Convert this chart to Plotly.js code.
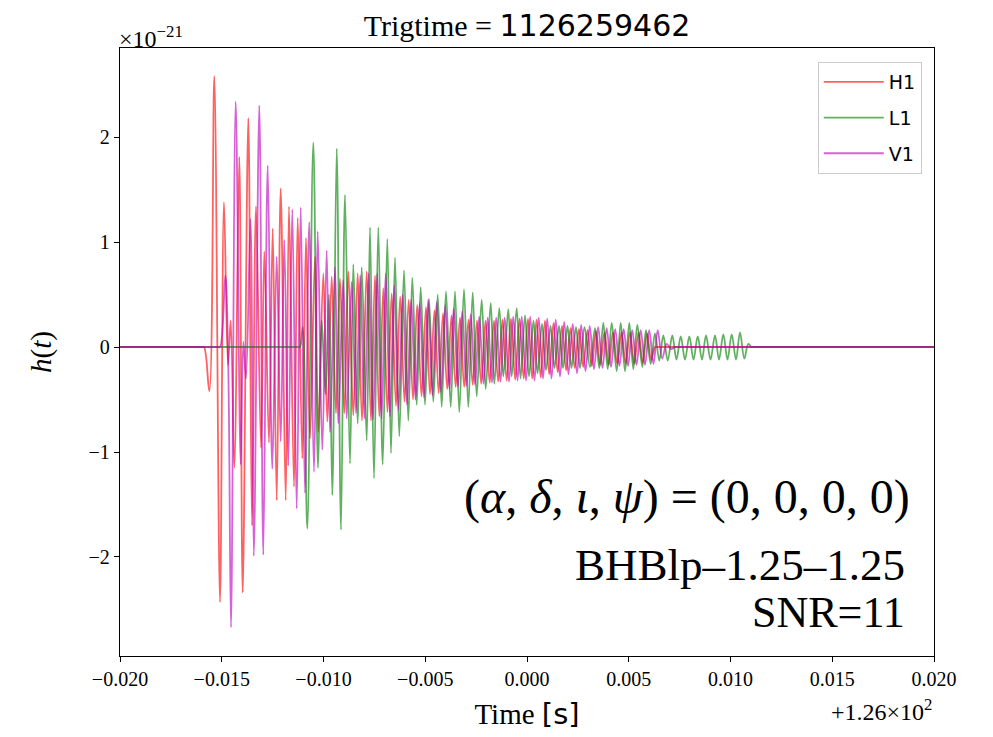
<!DOCTYPE html>
<html>
<head>
<meta charset="utf-8">
<script src="https://cdn.plot.ly/plotly-3.0.1.min.js"></script>
<style>html,body{margin:0;padding:0;background:#fff;}#chart{width:993px;height:737px;}</style>
</head>
<body>
<div id="chart"></div>
<script>
// Time offsets in seconds relative to 126 s; strain in units of 1e-21
const h1Time = [-0.020000,-0.016000,-0.015872,-0.015612,-0.015366,-0.015086,-0.014890,-0.014693,-0.014560,-0.014383,-0.014138,-0.013971,-0.013695,-0.013514,-0.013317,-0.013071,-0.012909,-0.012678,-0.012496,-0.012300,-0.012103,-0.011858,-0.011696,-0.011450,-0.011268,-0.011042,-0.010860,-0.010664,-0.010418,-0.010256,-0.010010,-0.009814,-0.009597,-0.009386,-0.009189,-0.008978,-0.008781,-0.008536,-0.008320,-0.008108,-0.007877,-0.007666,-0.007469,-0.007258,-0.007062,-0.006855,-0.006649,-0.006438,-0.006231,-0.006020,-0.005813,-0.005602,-0.005396,-0.005184,-0.004963,-0.004767,-0.004546,-0.004339,-0.004128,-0.003921,-0.003710,-0.003504,-0.003293,-0.003086,-0.002875,-0.002668,-0.002457,-0.002251,-0.002039,-0.001833,-0.001622,-0.001415,-0.001204,-0.000998,-0.000786,-0.000580,-0.000369,-0.000162,0.000049,0.000256,0.000467,0.000673,0.000884,0.001091,0.001302,0.001509,0.001720,0.001926,0.002138,0.002344,0.002555,0.002762,0.002973,0.003180,0.003391,0.003597,0.003808,0.004015,0.004226,0.004433,0.004644,0.004850,0.005061,0.005268,0.005479,0.005686,0.005897,0.006103,0.006290,0.006400,0.020000];
const h1Strain = [0,0,0,-0.42,2.58,-2.43,1.38,-0.17,0.25,-1.15,1.81,-2.34,2.18,-1.70,1.34,-0.96,0.91,-0.91,1.13,-1.46,1.51,-1.46,1.34,-1.33,1.23,-1.06,1.04,-0.87,0.86,-0.81,0.70,-0.71,0.67,-0.63,0.65,-0.63,0.72,-0.65,0.70,-0.70,0.72,-0.70,0.68,-0.66,0.56,-0.62,0.51,-0.56,0.48,-0.52,0.45,-0.50,0.40,-0.47,0.38,-0.45,0.35,-0.44,0.32,-0.40,0.30,-0.38,0.28,-0.38,0.26,-0.36,0.25,-0.35,0.25,-0.34,0.25,-0.33,0.26,-0.32,0.27,-0.31,0.27,-0.30,0.27,-0.30,0.26,-0.29,0.25,-0.26,0.23,-0.24,0.20,-0.22,0.18,-0.20,0.17,-0.19,0.16,-0.18,0.15,-0.17,0.14,-0.17,0.14,-0.16,0.14,-0.16,0.14,-0.16,0.14,-0.15,0.13,-0.12,0,0,0];

const l1Time = [-0.020000,-0.011250,-0.011155,-0.011022,-0.010796,-0.010501,-0.010270,-0.010089,-0.009902,-0.009730,-0.009568,-0.009352,-0.009140,-0.008944,-0.008698,-0.008536,-0.008320,-0.008123,-0.007877,-0.007715,-0.007519,-0.007307,-0.007091,-0.006865,-0.006683,-0.006487,-0.006276,-0.006044,-0.005833,-0.005636,-0.005420,-0.005224,-0.005012,-0.004816,-0.004605,-0.004388,-0.004192,-0.003981,-0.003750,-0.003538,-0.003327,-0.003096,-0.002884,-0.002668,-0.002472,-0.002226,-0.002029,-0.001784,-0.001607,-0.001361,-0.001164,-0.000919,-0.000752,-0.000506,-0.000319,-0.000098,0.000098,0.000319,0.000516,0.000737,0.000933,0.001155,0.001351,0.001572,0.001769,0.001990,0.002187,0.002408,0.002604,0.002825,0.003096,0.003341,0.003553,0.003749,0.003966,0.004162,0.004408,0.004604,0.004816,0.005027,0.005224,0.005420,0.005666,0.005847,0.006078,0.006290,0.006501,0.006698,0.006914,0.007140,0.007346,0.007553,0.007764,0.007976,0.008182,0.008389,0.008599,0.008796,0.009017,0.009238,0.009435,0.009646,0.009852,0.010059,0.010270,0.010467,0.010678,0.010875,0.011042,0.011150,0.020000];
const l1Strain = [0,0,0,0.19,-1.73,1.95,-1.15,0.25,-0.45,0.50,-1.41,1.89,-1.74,1.45,-1.11,0.79,-0.73,0.76,-0.89,1.14,-1.25,1.14,-1.12,1.03,-1.01,0.85,-0.85,0.73,-0.70,0.66,-0.55,0.57,-0.55,0.46,-0.52,0.50,-0.57,0.53,-0.57,0.53,-0.62,0.55,-0.57,0.52,-0.47,0.45,-0.40,0.42,-0.35,0.37,-0.28,0.36,-0.28,0.37,-0.30,0.30,-0.28,0.25,-0.25,0.22,-0.22,0.20,-0.20,0.20,-0.20,0.20,-0.20,0.19,-0.20,0.19,-0.19,0.18,-0.20,0.23,-0.21,0.23,-0.23,0.23,-0.23,0.23,-0.21,0.21,-0.19,0.16,-0.16,0.13,-0.13,0.11,-0.13,0.11,-0.12,0.10,-0.12,0.10,-0.12,0.10,-0.12,0.11,-0.12,0.11,-0.12,0.12,-0.12,0.12,-0.12,0.14,-0.11,0.03,0,0,0];

const v1Time = [-0.020000,-0.015200,-0.015086,-0.014826,-0.014678,-0.014546,-0.014315,-0.014069,-0.013941,-0.013809,-0.013587,-0.013425,-0.013155,-0.012958,-0.012742,-0.012516,-0.012300,-0.012103,-0.011926,-0.011730,-0.011533,-0.011317,-0.011121,-0.010909,-0.010698,-0.010467,-0.010285,-0.010059,-0.009843,-0.009681,-0.009435,-0.009273,-0.009027,-0.008860,-0.008615,-0.008403,-0.008197,-0.007985,-0.007779,-0.007568,-0.007361,-0.007150,-0.006944,-0.006732,-0.006526,-0.006315,-0.006108,-0.005897,-0.005691,-0.005479,-0.005273,-0.005062,-0.004855,-0.004644,-0.004438,-0.004226,-0.004020,-0.003809,-0.003602,-0.003391,-0.003184,-0.002973,-0.002767,-0.002555,-0.002349,-0.002138,-0.001931,-0.001720,-0.001514,-0.001302,-0.001096,-0.000885,-0.000678,-0.000467,-0.000260,-0.000049,0.000157,0.000368,0.000575,0.000786,0.000993,0.001204,0.001410,0.001621,0.001828,0.002039,0.002246,0.002457,0.002663,0.002875,0.003081,0.003292,0.003499,0.003710,0.003916,0.004128,0.004334,0.004545,0.004752,0.004963,0.005169,0.005381,0.005587,0.005798,0.006005,0.006216,0.006423,0.006644,0.006865,0.007076,0.007273,0.007400,0.020000];
const v1Strain = [0,0,0,0.68,-0.20,-2.67,2.34,-1.12,0.05,-0.30,1.22,-1.99,2.30,-1.98,1.73,-1.16,0.86,-0.90,1.02,-1.13,1.31,-1.54,1.33,-1.39,1.19,-1.19,1.10,-0.98,0.92,-0.81,0.76,-0.73,0.64,-0.68,0.62,-0.63,0.68,-0.68,0.70,-0.69,0.70,-0.68,0.70,-0.66,0.59,-0.60,0.50,-0.55,0.45,-0.50,0.42,-0.48,0.45,-0.46,0.43,-0.43,0.40,-0.40,0.37,-0.38,0.34,-0.37,0.31,-0.36,0.29,-0.35,0.28,-0.34,0.28,-0.33,0.28,-0.33,0.29,-0.32,0.29,-0.32,0.29,-0.32,0.28,-0.30,0.27,-0.30,0.26,-0.28,0.24,-0.26,0.22,-0.25,0.21,-0.23,0.20,-0.21,0.19,-0.20,0.18,-0.19,0.17,-0.18,0.17,-0.18,0.16,-0.17,0.16,-0.17,0.16,-0.16,0.16,-0.11,0.03,-0.02,0,0,0];

const detectorNames = ['H1', 'L1', 'V1'];
const xTickVals = [-0.020, -0.015, -0.010, -0.005, 0.000, 0.005, 0.010, 0.015, 0.020];
const xTickText = ['−0.020', '−0.015', '−0.010', '−0.005', '0.000', '0.005', '0.010', '0.015', '0.020'];
const yTickVals = [-2, -1, 0, 1, 2];
const yTickText = ['−2', '−1', '0', '1', '2'];
const titleText = 'Trigtime = <span style="font-family:DejaVu Sans">1126259462</span>';
const paramText = '(<i>α</i>, <i>δ</i>, <i>ι</i>, <i>ψ</i>) = (0, 0, 0, 0)';
const modelText = 'BHBlp–1.25–1.25';
const snrText = 'SNR=11';
const yExponentText = '×10<sup>−21</sup>';
const xOffsetText = '+1.26×10<sup>2</sup>';

const colors = ['rgba(255,0,0,0.62)', 'rgba(0,128,0,0.62)', 'rgba(191,0,191,0.62)'];
const seriesT = [h1Time, l1Time, v1Time];
const seriesY = [h1Strain, l1Strain, v1Strain];

const traces = detectorNames.map((name, i) => ({
  type: 'scatter', mode: 'lines', name: name, legendgroup: name,
  x: seriesT[i], y: seriesY[i],
  line: {color: colors[i], width: 1.8, shape: 'spline', smoothing: 1},
  hoverinfo: 'skip'
}));

const serif = 'Liberation Serif, Times New Roman, serif';
const layout = {
  width: 993, height: 737,
  margin: {l: 120, r: 59, t: 48, b: 81, pad: 0},
  paper_bgcolor: 'white', plot_bgcolor: 'white',
  title: {text: titleText, font: {family: serif, size: 30, color: 'black'},
          xref: 'paper', x: 0.5, xanchor: 'center', yref: 'container', y: 0.966, yanchor: 'middle'},
  xaxis: {range: [-0.02, 0.02], tickvals: xTickVals, ticktext: xTickText,
          ticks: 'outside', ticklen: 5, tickwidth: 1, tickcolor: 'black',
          showline: true, mirror: true, linecolor: 'black', linewidth: 1.3,
          showgrid: false, zeroline: false,
          tickfont: {family: serif, size: 20, color: 'black'},
          title: {text: 'Time <span style="font-family:DejaVu Sans">[s]</span>', font: {family: serif, size: 29, color: 'black'}, standoff: 14}},
  yaxis: {range: [-2.943, 2.848], tickvals: yTickVals, ticktext: yTickText,
          ticks: 'outside', ticklen: 5, tickwidth: 1, tickcolor: 'black',
          showline: true, mirror: true, linecolor: 'black', linewidth: 1.3,
          showgrid: false, zeroline: false,
          tickfont: {family: serif, size: 20, color: 'black'},
          title: {text: '<i>h</i>(<i>t</i>)', font: {family: serif, size: 29, color: 'black'}, standoff: 28}},
  showlegend: true,
  legend: {x: 0.985, xanchor: 'right', y: 0.977, yanchor: 'top',
           bgcolor: 'white', bordercolor: '#cccccc', borderwidth: 1,
           font: {family: 'DejaVu Sans', size: 19, color: 'black'},
           tracegroupgap: 8, itemwidth: 60},
  annotations: [
    {text: yExponentText, xref: 'paper', yref: 'paper', x: -0.004, y: 1.018, xanchor: 'left', yanchor: 'middle', showarrow: false, font: {family: serif, size: 24, color: 'black'}},
    {text: xOffsetText, xref: 'paper', yref: 'paper', x: 1.0, y: -0.089, xanchor: 'right', yanchor: 'middle', showarrow: false, font: {family: serif, size: 24, color: 'black'}},
    {text: paramText, xref: 'paper', yref: 'paper', x: 0.973, y: 0.2615, xanchor: 'right', yanchor: 'middle', showarrow: false, font: {family: serif, size: 48, color: 'black'}},
    {text: modelText, xref: 'paper', yref: 'paper', x: 0.967, y: 0.1497, xanchor: 'right', yanchor: 'middle', showarrow: false, font: {family: serif, size: 45, color: 'black'}},
    {text: snrText, xref: 'paper', yref: 'paper', x: 0.967, y: 0.072, xanchor: 'right', yanchor: 'middle', showarrow: false, font: {family: serif, size: 44, color: 'black'}}
  ]
};

Plotly.newPlot('chart', traces, layout, {displayModeBar: false, staticPlot: true});
</script>
</body>
</html>
